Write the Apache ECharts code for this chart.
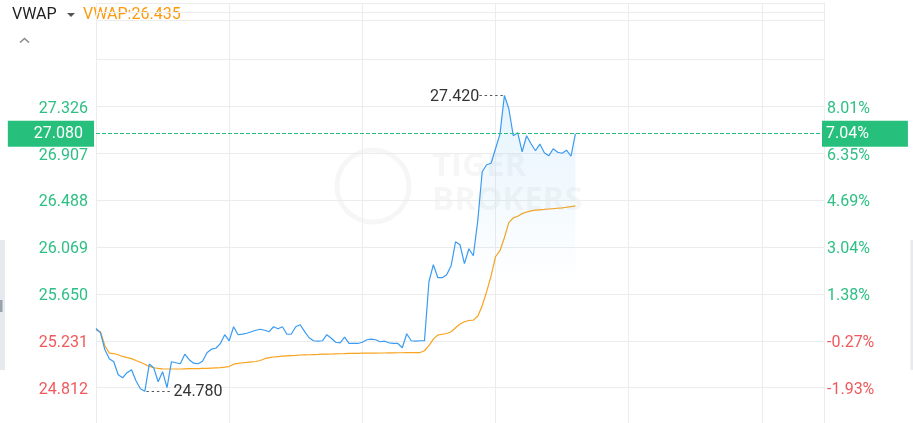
<!DOCTYPE html>
<html>
<head>
<meta charset="utf-8">
<script src="https://cdn.jsdelivr.net/npm/echarts@6/dist/echarts.min.js"></script>
<style>html,body{margin:0;padding:0;background:#fff;}#chart{width:913px;height:423px;}</style>
</head>
<body>
<div id="chart"></div>
<script>
// ---- data ----
const slotCount = 165; // 2-minute slots for the trading day
const categories = [];
(function () {
  let m = 9 * 60 + 30;
  for (let i = 0; i < slotCount; i++) {
    if (m >= 12 * 60 && m < 13 * 60) m = 13 * 60;
    categories.push(String(Math.floor(m / 60)).padStart(2, '0') + ':' + String(m % 60).padStart(2, '0'));
    m += 2;
  }
})();

const priceValues = [
  25.341, 25.303, 25.151, 25.071, 25.044, 24.928, 24.901, 24.946, 24.973, 24.874,
  24.803, 24.780, 25.023, 24.990, 24.865, 24.955, 24.812, 25.044, 25.035, 25.026,
  25.111, 25.062, 25.031, 25.026, 25.048, 25.124, 25.156, 25.164, 25.205, 25.285,
  25.231, 25.356, 25.285, 25.291, 25.298, 25.312, 25.325, 25.334, 25.325, 25.312,
  25.356, 25.338, 25.356, 25.289, 25.291, 25.356, 25.374, 25.312, 25.258, 25.231,
  25.227, 25.231, 25.285, 25.254, 25.218, 25.213, 25.263, 25.207, 25.207, 25.207,
  25.218, 25.240, 25.245, 25.240, 25.222, 25.227, 25.213, 25.207, 25.207, 25.169,
  25.294, 25.231, 25.227, 25.231, 25.231, 25.758, 25.910, 25.794, 25.794, 25.820,
  25.901, 26.115, 26.088, 25.919, 26.052, 25.990, 26.302, 26.740, 26.802, 26.816,
  26.945, 27.076, 27.420, 27.302, 27.061, 27.088, 26.918, 27.061, 26.990, 26.927,
  26.987, 26.909, 26.882, 26.945, 26.914, 26.905, 26.932, 26.878, 27.080
];

const vwapValues = [
  25.327, 25.312, 25.187, 25.121, 25.117, 25.106, 25.091, 25.081, 25.072, 25.055,
  25.039, 25.022, 25.002, 24.990, 24.984, 24.980, 24.979, 24.979, 24.979, 24.979,
  24.981, 24.982, 24.982, 24.983, 24.984, 24.984, 24.987, 24.989, 24.991, 24.995,
  25.001, 25.022, 25.030, 25.035, 25.038, 25.042, 25.046, 25.055, 25.071, 25.081,
  25.086, 25.090, 25.094, 25.097, 25.099, 25.101, 25.104, 25.105, 25.106, 25.108,
  25.109, 25.111, 25.112, 25.113, 25.114, 25.115, 25.116, 25.118, 25.119, 25.119,
  25.120, 25.120, 25.121, 25.121, 25.122, 25.122, 25.123, 25.123, 25.124, 25.124,
  25.125, 25.125, 25.126, 25.126, 25.142, 25.187, 25.246, 25.282, 25.289, 25.296,
  25.312, 25.347, 25.380, 25.401, 25.412, 25.415, 25.450, 25.544, 25.669, 25.811,
  25.981, 26.035, 26.151, 26.285, 26.328, 26.343, 26.366, 26.380, 26.391, 26.397,
  26.400, 26.403, 26.407, 26.410, 26.414, 26.418, 26.423, 26.428, 26.435
];

const priceTickLabels = ['24.812', '25.231', '25.650', '26.069', '26.488', '26.907', '27.326'];
const pctTickLabels   = ['-1.93%', '-0.27%', '1.38%', '3.04%', '4.69%', '6.35%', '8.01%'];
const currentPrice = 27.080;
const currentPctLabel = '7.04%';
const vwapLabel = 'VWAP';

// axis ranges: labelled grid (ticks from 24.812 every 0.419) and full-height plot grid share one scale
const yMax = 28.246, yMinTicks = 24.812, yInterval = 0.419, yMinPlot = 24.497;

// ---- styles ----
const GREEN = '#26c07c', RED = '#f0595b', BLUE = '#3a9bf2', ORANGE = '#f9a31e';
const GRIDC = '#ececec';
const FONT = 'Roboto';

function tickIndex(v) { return priceTickLabels.indexOf(Number(v).toFixed(3)); }
function tickColor(v) { const i = tickIndex(v); return (i >= 0 && pctTickLabels[i].charAt(0) === '-') ? RED : '#2dbf83'; }

const chart = echarts.init(document.getElementById('chart'), null, { renderer: 'canvas' });
const vwapLast = vwapValues[vwapValues.length - 1];
const markTextRich = { v: { fontSize: 16, fontFamily: FONT, color: '#333' }, d: { fontSize: 10, fontFamily: FONT, color: '#333' } };
function dashLine() { return { color: GREEN, type: 'dashed', dashOffset: 0, width: 1, opacity: 1 }; }
const axisLabelBase = { show: true, fontSize: 16, fontFamily: FONT, verticalAlign: 'top', lineHeight: 5, color: tickColor };

chart.setOption({
  animation: false,
  backgroundColor: '#fff',
  grid: [
    { left: 96, right: 89, top: 3, bottom: 35.3, containLabel: false },
    { left: 96, right: 89, top: 3, bottom: 0, containLabel: false }
  ],
  xAxis: [
    {
      type: 'category', data: categories, boundaryGap: false, gridIndex: 0,
      axisLine: { show: false }, axisTick: { show: false }, axisLabel: { show: false },
      splitLine: { show: false }
    },
    {
      type: 'category', data: categories, boundaryGap: false, gridIndex: 1,
      axisLine: { show: false }, axisTick: { show: false }, axisLabel: { show: false },
      splitLine: { show: true, interval: function (idx) { return idx % 30 === 0; }, lineStyle: { color: GRIDC, width: 1 } }
    }
  ],
  yAxis: [
    {
      type: 'value', gridIndex: 0, position: 'left', min: yMinTicks, max: yMax, interval: yInterval,
      axisLine: { show: false }, axisTick: { show: false },
      splitLine: { show: true, lineStyle: { color: GRIDC, width: 1 } },
      axisLabel: Object.assign({}, axisLabelBase, { margin: 8,
        formatter: function (v) { const i = tickIndex(v); return i >= 0 ? priceTickLabels[i] : ''; } })
    },
    {
      type: 'value', gridIndex: 0, position: 'right', min: yMinTicks, max: yMax, interval: yInterval,
      axisLine: { show: false }, axisTick: { show: false },
      splitLine: { show: false },
      axisLabel: Object.assign({}, axisLabelBase, { margin: 3,
        formatter: function (v) { const i = tickIndex(v); return i >= 0 ? pctTickLabels[i] : ''; } })
    },
    {
      type: 'value', gridIndex: 1, position: 'right', min: yMinPlot, max: yMax,
      axisLine: { show: true, lineStyle: { color: GRIDC } }, axisTick: { show: false },
      axisLabel: { show: false }, splitLine: { show: false }
    }
  ],
  graphic: [
    { type: 'line', z: 1, silent: true, shape: { x1: 96, y1: 20.5, x2: 824, y2: 20.5 }, style: { stroke: GRIDC, lineWidth: 1 } },
    { type: 'circle', z: 0, silent: true, shape: { cx: 373, cy: 186, r: 36 }, style: { fill: 'none', stroke: 'rgba(0,0,0,0.035)', lineWidth: 5 } },
    { type: 'text', z: 0, silent: true, left: 432, top: 150, style: { text: 'TIGER', font: 'bold 33px "Open Sans"', fill: 'rgba(0,0,0,0.035)' } },
    { type: 'text', z: 0, silent: true, left: 432, top: 184, style: { text: 'BROKERS', font: 'bold 33px "Open Sans"', fill: 'rgba(0,0,0,0.035)' } },
    { type: 'text', left: 12, top: 7, style: { text: vwapLabel, font: '16px ' + FONT, fill: '#222' } },
    { type: 'polygon', shape: { points: [[67, 13], [75, 13], [71, 17]] }, style: { fill: '#555' } },
    { type: 'text', left: 83, top: 7, style: { text: vwapLabel + ':' + vwapLast.toFixed(3), font: '16px ' + FONT, fill: '#fb9a0a' } },
    { type: 'polyline', shape: { points: [[20, 42.5], [24.5, 38.5], [29, 42.5]] }, style: { stroke: '#8a8a8a', lineWidth: 1.6, fill: 'none' } },
    { type: 'rect', shape: { x: 0, y: 240, width: 5, height: 130 }, style: { fill: '#e6eaef' } },
    { type: 'rect', shape: { x: 0, y: 300, width: 2.5, height: 12 }, style: { fill: '#9aa3ad' } },
    { type: 'rect', shape: { x: 910.5, y: 240, width: 3, height: 130 }, style: { fill: '#e6eaef' } }
  ],
  series: [
    { type: 'line', data: [], xAxisIndex: 0, yAxisIndex: 0, silent: true },
    {
      name: vwapLabel, type: 'line', data: vwapValues, xAxisIndex: 1, yAxisIndex: 2,
      showSymbol: false, symbol: 'none', z: 3,
      lineStyle: { color: ORANGE, width: 1.2 }
    },
    {
      name: 'Price', type: 'line', data: priceValues, xAxisIndex: 1, yAxisIndex: 2,
      showSymbol: false, symbol: 'none', z: 4,
      lineStyle: { color: BLUE, width: 1.2 },
      areaStyle: {
        origin: 'start',
        color: new echarts.graphic.LinearGradient(0, 0, 0, 1, [
          { offset: 0, color: 'rgba(70,175,240,0.20)' },
          { offset: 0.58, color: 'rgba(70,175,240,0)' },
          { offset: 1, color: 'rgba(70,175,240,0)' }
        ])
      },
      markPoint: {
        silent: true, symbol: 'circle', symbolSize: 1, animation: false,
        itemStyle: { color: 'rgba(0,0,0,0)' },
        data: [
          { type: 'max', label: { show: true, position: 'left', distance: 1, offset: [0, 1],
              formatter: function (p) { return '{v|' + Number(p.value).toFixed(3) + '}{d|- - - - -}'; },
              rich: markTextRich } },
          { type: 'min', label: { show: true, position: 'right', distance: 1, offset: [0, 1],
              formatter: function (p) { return '{d|- - - - -} {v|' + Number(p.value).toFixed(3) + '}'; },
              rich: markTextRich } }
        ]
      }
    },
    {
      name: 'Current', type: 'line', data: [], xAxisIndex: 1, yAxisIndex: 2, z: 6,
      color: GREEN, itemStyle: { color: GREEN }, lineStyle: { color: GREEN },
      markLine: {
        silent: true, symbol: ['none', 'none'], animation: false,
        lineStyle: dashLine(),
        data: [
          { yAxis: currentPrice, lineStyle: dashLine(), label: { show: true, position: 'start', distance: 2, formatter: currentPrice.toFixed(3), color: '#fff', backgroundColor: GREEN, padding: [5, 11, 5, 26], fontSize: 16, fontFamily: FONT } },
          { yAxis: currentPrice, lineStyle: dashLine(), label: { show: true, position: 'end', distance: -2, formatter: currentPctLabel, color: '#fff', backgroundColor: GREEN, padding: [5, 39, 5, 4], fontSize: 16, fontFamily: FONT } }
        ]
      }
    }
  ]
});
</script>
</body>
</html>
